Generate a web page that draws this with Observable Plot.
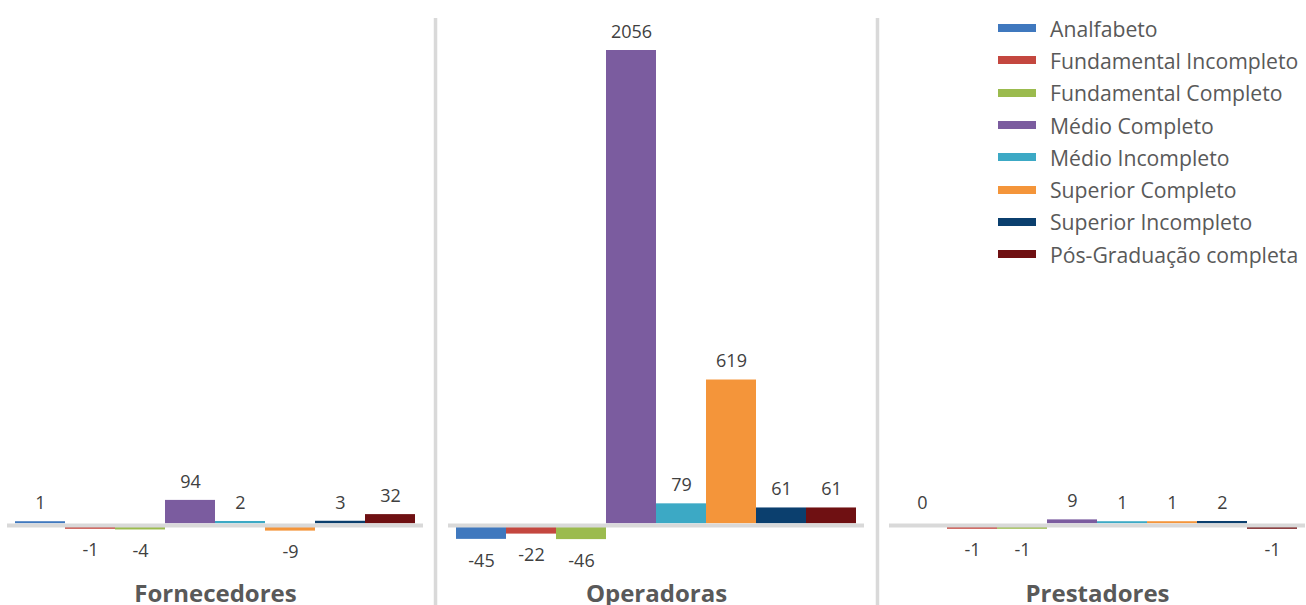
<!DOCTYPE html>
<html>
<head>
<meta charset="utf-8">
<script src="https://cdn.jsdelivr.net/npm/d3@7"></script>
<script src="https://cdn.jsdelivr.net/npm/@observablehq/plot@0.6"></script>
<style>
  html, body { margin: 0; padding: 0; background: #fff; }
  #wrap { position: relative; width: 1306px; height: 605px; overflow: hidden; font-family: "Open Sans", sans-serif; }
  #legend { position: absolute; left: 998px; top: 12px; }
  .row { display: flex; align-items: center; height: 32.3px; font-size: 21.2px; color: #595959; white-space: nowrap; }
  .sw { width: 38px; height: 8px; margin-right: 14px; }
</style>
</head>
<body>
<div id="wrap"><div id="legend"></div></div>
<script>
const panels = ["Fornecedores", "Operadoras", "Prestadores"];
const levels = ["Analfabeto", "Fundamental Incompleto", "Fundamental Completo", "Médio Completo",
                "Médio Incompleto", "Superior Completo", "Superior Incompleto", "Pós-Graduação completa"];
const fornecedores = [1, -1, -4, 94, 2, -9, 3, 32];
const operadoras = [-45, -22, -46, 2056, 79, 619, 61, 61];
const prestadores = [0, -1, -1, 9, 1, 1, 2, -1];
const colors = ["#3F78BE", "#C4473F", "#9BBB4E", "#7B5C9F", "#3CA9C5", "#F4953A", "#0B3F6E", "#6F1012"];

const series = [fornecedores, operadoras, prestadores];
const data = [];
panels.forEach((p, i) => levels.forEach((l, j) => data.push({panel: p, level: l, value: series[i][j]})));

const pos = data.filter(d => d.value > 0);
const neg = data.filter(d => d.value < 0);
const nonneg = data.filter(d => d.value >= 0);

const plot = Plot.plot({
  width: 1306,
  height: 605,
  marginTop: 53.5,
  marginBottom: 69.5,
  marginLeft: 13,
  marginRight: 6,
  style: {fontFamily: "Open Sans, sans-serif", background: "transparent"},
  fx: {domain: panels, paddingInner: 0.088, paddingOuter: 0},
  x: {domain: levels, padding: 0, axis: null},
  y: {axis: null},
  color: {domain: levels, range: colors},
  marks: [
    Plot.barY(pos, {fx: "panel", x: "level", y: "value", fill: "level", dy: -1.7, insetTop: -1.8}),
    Plot.barY(neg, {fx: "panel", x: "level", y: "value", fill: "level", dy: 1.8, insetBottom: -1.8}),
    Plot.ruleY([0], {stroke: "#D9D9D9", strokeWidth: 4, insetLeft: -7, insetRight: -7}),
    Plot.text(nonneg, {fx: "panel", x: "level", y: "value", text: d => String(d.value), dy: -22,
      fontSize: 18, fill: "#404040", lineAnchor: "middle"}),
    Plot.text(neg, {fx: "panel", x: "level", y: "value", text: d => String(d.value), dy: 25,
      fontSize: 18, fill: "#404040", lineAnchor: "middle"}),
    Plot.axisFx({anchor: "bottom", tickSize: 0, tickPadding: 49, fontSize: 24, fontWeight: "bold",
      fill: "#595959", label: null})
  ]
});

document.getElementById("wrap").prepend(plot);

// separators between panels, positioned from the fx scale
const fxs = plot.scale("fx");
const band = d3.scaleBand().domain(fxs.domain).range(fxs.range)
  .paddingInner(fxs.paddingInner ?? 0.088).paddingOuter(fxs.paddingOuter ?? 0);
const svg = d3.select(plot);
for (let i = 1; i < panels.length; i++) {
  const xa = band(panels[i - 1]) + band.bandwidth();
  const xb = band(panels[i]);
  const xm = (xa + xb) / 2;
  svg.append("line").attr("x1", xm).attr("x2", xm).attr("y1", 18).attr("y2", 605)
    .attr("stroke", "#D9D9D9").attr("stroke-width", 3.5);
}

// legend
const legend = document.getElementById("legend");
levels.forEach((l, i) => {
  const row = document.createElement("div");
  row.className = "row";
  const sw = document.createElement("div");
  sw.className = "sw";
  sw.style.background = colors[i];
  const t = document.createElement("span");
  t.textContent = l;
  row.appendChild(sw);
  row.appendChild(t);
  legend.appendChild(row);
});
</script>
</body>
</html>
